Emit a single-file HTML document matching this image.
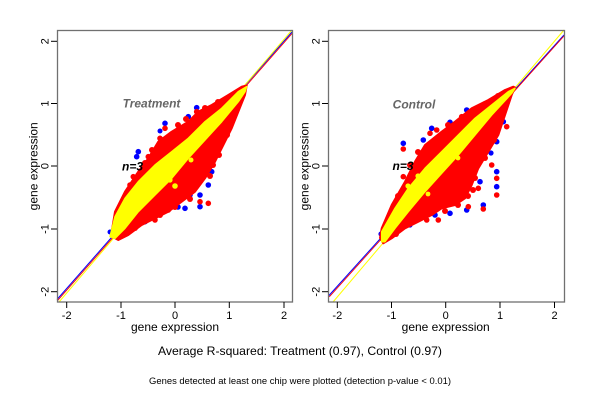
<!DOCTYPE html>
<html><head><meta charset="utf-8"><style>
html,body{margin:0;padding:0;background:#fff;}
svg{display:block;}
text{font-family:"Liberation Sans",Arial,sans-serif;}
</style></head><body>
<svg width="600" height="400" viewBox="0 0 600 400" xmlns="http://www.w3.org/2000/svg">
<rect width="600" height="400" fill="#fff"/>

<!-- LEFT PANEL -->
<g>
<line x1="57" y1="299.5" x2="292" y2="32" stroke="#0000ff" stroke-width="1"/>
<line x1="57.8" y1="300.3" x2="292.5" y2="33" stroke="#ff0000" stroke-width="0.9"/>
<line x1="59" y1="302" x2="292" y2="30" stroke="#ffff00" stroke-width="1"/>

<g fill="#0000ff">
<circle cx="165" cy="123.3" r="2.8"/><circle cx="196.7" cy="107.7" r="2.8"/><circle cx="188.3" cy="116.7" r="2.8"/>
<circle cx="138.3" cy="151.7" r="2.8"/><circle cx="136.7" cy="156.7" r="2.8"/><circle cx="128.3" cy="200" r="2.8"/>
<circle cx="120" cy="221.7" r="2.8"/><circle cx="115" cy="231.7" r="2.8"/><circle cx="208.3" cy="185" r="2.8"/>
<circle cx="200" cy="195" r="2.8"/><circle cx="185" cy="208.3" r="2.8"/><circle cx="150" cy="218.3" r="2.8"/>
<circle cx="145" cy="221.7" r="2.8"/><circle cx="220" cy="135" r="2.8"/><circle cx="218.3" cy="145" r="2.8"/>
<circle cx="211.7" cy="171.7" r="2.8"/><circle cx="190" cy="195" r="2.8"/><circle cx="200" cy="206.7" r="2.8"/>
<circle cx="224" cy="124" r="2.8"/><circle cx="131" cy="228" r="2.8"/><circle cx="178" cy="207" r="2.8"/>
<circle cx="230" cy="118" r="2.5"/><circle cx="110" cy="232" r="2.5"/><circle cx="160" cy="131" r="2.5"/>
</g>

<polygon fill="#ff0000" stroke="#ff0000" stroke-width="2" stroke-linejoin="round" points="115,211.7 125,191.7 138.3,171.7 148.3,158.3 158.3,141.7 171.7,131.7 188.3,121.7 198.3,111.7 211.7,105 228.3,95 241.7,86.7 246.7,85.5 245,95 238.3,111.7 231.7,128.3 225,141.7 215,161.7 205,178.3 195,191.7 181.7,201.7 168.3,211.7 155,218.3 141.7,225 128.3,235 118.3,240 111,236"/>

<g fill="#ff0000">
<circle cx="165" cy="128.3" r="2.8"/><circle cx="160" cy="138.3" r="2.8"/><circle cx="196.7" cy="111.7" r="2.8"/>
<circle cx="133.3" cy="176.7" r="2.8"/><circle cx="148.3" cy="156.7" r="2.8"/><circle cx="130" cy="185" r="2.8"/>
<circle cx="200" cy="201.7" r="2.8"/><circle cx="208.3" cy="203.3" r="2.8"/><circle cx="168.3" cy="210" r="2.8"/>
<circle cx="155" cy="220" r="2.8"/><circle cx="138.3" cy="175" r="2.8"/><circle cx="145" cy="163" r="3"/>
<circle cx="152" cy="150" r="3"/><circle cx="178" cy="125" r="3"/><circle cx="205" cy="108" r="3"/>
<circle cx="218" cy="102" r="3"/><circle cx="210" cy="176" r="3"/><circle cx="219" cy="155" r="3"/>
<circle cx="227" cy="135" r="3"/><circle cx="190" cy="199" r="3"/><circle cx="175" cy="207" r="3"/>
<circle cx="160" cy="215" r="3"/><circle cx="135" cy="228" r="3"/><circle cx="122" cy="204" r="3"/>
<circle cx="128" cy="193" r="3"/><circle cx="213" cy="165" r="3"/><circle cx="186" cy="119" r="3"/>
</g>

<text x="122" y="170.5" font-size="12" font-weight="bold" font-style="italic" fill="#000">n=3</text>

<polygon fill="#ffff00" stroke="#ffff00" stroke-width="1.5" stroke-linejoin="round" points="115,216.7 125,198.3 138.3,181.7 155,165 171.7,151.7 188.3,138.3 205,121.7 221.7,108.3 238.3,91.7 246.7,86.7 245,91.7 238.3,101.7 221.7,121.7 205,140 188.3,158.3 171.7,178.3 155,195 138.3,211.7 125,228.3 115,238.3 110,236.7"/>
<g fill="#ffff00"><circle cx="175" cy="186" r="2.8"/><circle cx="153" cy="172" r="2.6"/><circle cx="191" cy="160" r="2.5"/><circle cx="170" cy="180" r="2.6"/></g>

<text x="151.5" y="107.5" font-size="12" font-weight="bold" font-style="italic" fill="#666" text-anchor="middle">Treatment</text>

<rect x="57.5" y="30.5" width="235" height="271.5" fill="none" stroke="#707070" stroke-width="1.3"/>
<g stroke="#000" stroke-width="1">
<line x1="66.7" y1="302" x2="66.7" y2="308"/><line x1="121" y1="302" x2="121" y2="308"/><line x1="175" y1="302" x2="175" y2="308"/><line x1="229.3" y1="302" x2="229.3" y2="308"/><line x1="284" y1="302" x2="284" y2="308"/>
<line x1="51" y1="41.3" x2="57" y2="41.3"/><line x1="51" y1="103.5" x2="57" y2="103.5"/><line x1="51" y1="166" x2="57" y2="166"/><line x1="51" y1="229" x2="57" y2="229"/><line x1="51" y1="291.7" x2="57" y2="291.7"/>
</g>
<g font-size="11" fill="#000" text-anchor="middle">
<text x="66.7" y="319">-2</text><text x="121" y="319">-1</text><text x="175" y="319">0</text><text x="229.3" y="319">1</text><text x="284" y="319">2</text>
<text transform="translate(44.5,41.3) rotate(-90)" dy="4">2</text>
<text transform="translate(44.5,103.5) rotate(-90)" dy="4">1</text>
<text transform="translate(44.5,166) rotate(-90)" dy="4">0</text>
<text transform="translate(44.5,229) rotate(-90)" dy="4">-1</text>
<text transform="translate(44.5,291.7) rotate(-90)" dy="4">-2</text>
</g>
<text x="175" y="331" font-size="12" text-anchor="middle">gene expression</text>
<text transform="translate(37.5,166.3) rotate(-90)" font-size="12" text-anchor="middle">gene expression</text>
</g>

<!-- RIGHT PANEL -->
<g>
<line x1="328.5" y1="296" x2="564" y2="35" stroke="#0000ff" stroke-width="1"/>
<line x1="329.3" y1="296.8" x2="564" y2="36" stroke="#ff0000" stroke-width="0.9"/>
<line x1="333" y1="302" x2="564" y2="30" stroke="#ffff00" stroke-width="1"/>

<g fill="#0000ff">
<circle cx="478.3" cy="107.7" r="2.8"/><circle cx="466.7" cy="110" r="2.8"/><circle cx="450" cy="122.3" r="2.8"/>
<circle cx="431.7" cy="128.3" r="2.8"/><circle cx="403.3" cy="143.3" r="2.8"/><circle cx="423.3" cy="140" r="2.8"/>
<circle cx="503.3" cy="121.7" r="2.8"/><circle cx="496.7" cy="141.7" r="2.8"/><circle cx="496.7" cy="171.7" r="2.8"/>
<circle cx="480" cy="181.7" r="2.8"/><circle cx="496.7" cy="186.7" r="2.8"/><circle cx="483.3" cy="205" r="2.8"/>
<circle cx="466.7" cy="210" r="2.8"/><circle cx="450" cy="213.3" r="2.8"/><circle cx="435" cy="215" r="2.8"/>
<circle cx="418.3" cy="218.3" r="2.8"/><circle cx="463.3" cy="195" r="2.8"/><circle cx="388" cy="225" r="2.6"/>
<circle cx="381" cy="234" r="2.6"/><circle cx="491" cy="153" r="2.6"/><circle cx="410" cy="225" r="2.6"/>
</g>

<polygon fill="#ff0000" stroke="#ff0000" stroke-width="2" stroke-linejoin="round" points="381.7,228.3 391.7,205 405,181.7 415,161.7 425,145 441.7,131.7 455,121.7 471.7,108.3 488.3,100 505,90 513.3,86.7 515,87.5 511.7,95 505,115 498.3,135 488.3,151.7 478.3,168.3 471.7,185 465,198.3 455,205 441.7,208.3 431.7,215 418.3,221.7 405,228.3 391.7,238.3 383.3,243.3 380,238"/>

<g fill="#ff0000">
<circle cx="403.3" cy="149" r="2.8"/><circle cx="430" cy="133.3" r="2.8"/><circle cx="436.7" cy="130" r="2.8"/>
<circle cx="461.7" cy="116.7" r="2.8"/><circle cx="506.7" cy="126.7" r="2.8"/><circle cx="496.7" cy="178.3" r="2.8"/>
<circle cx="496.7" cy="195" r="2.8"/><circle cx="483.3" cy="209" r="2.8"/><circle cx="468.3" cy="206.7" r="2.8"/>
<circle cx="491.7" cy="165" r="2.8"/><circle cx="403.3" cy="176.7" r="2.8"/><circle cx="405" cy="188.3" r="2.8"/>
<circle cx="478.3" cy="188.3" r="2.8"/><circle cx="426.7" cy="220" r="2.8"/><circle cx="438.3" cy="220" r="2.8"/>
<circle cx="410" cy="165" r="3"/><circle cx="418" cy="152" r="3"/><circle cx="448" cy="125" r="3"/>
<circle cx="485" cy="104" r="3"/><circle cx="498" cy="96" r="3"/><circle cx="502" cy="115" r="3"/>
<circle cx="494" cy="140" r="3"/><circle cx="485" cy="158" r="3"/><circle cx="475" cy="178" r="3"/>
<circle cx="468" cy="196" r="3"/><circle cx="458" cy="205" r="3"/><circle cx="445" cy="211" r="3"/>
<circle cx="398" cy="196" r="3"/><circle cx="396" cy="234" r="3"/><circle cx="473" cy="190" r="3"/>
</g>

<text x="392.5" y="170" font-size="12" font-weight="bold" font-style="italic" fill="#000">n=3</text>

<polygon fill="#ffff00" stroke="#ffff00" stroke-width="1.5" stroke-linejoin="round" points="381.7,231.7 395,208.3 408.3,188.3 425,168.3 441.7,151.7 458.3,135 475,118.3 491.7,105 508.3,91.7 515,88.3 511.7,93.3 491.7,115 475,135 458.3,155 441.7,173.3 425,191.7 408.3,211.7 395,228.3 385,241.7 381.7,241.7"/>
<g fill="#ffff00"><circle cx="418" cy="176" r="2.6"/><circle cx="408" cy="186" r="2.6"/><circle cx="458" cy="158" r="2.4"/><circle cx="428" cy="194" r="2.4"/></g>

<text x="414" y="108.5" font-size="12" font-weight="bold" font-style="italic" fill="#666" text-anchor="middle">Control</text>

<rect x="328.5" y="30.5" width="236" height="271.5" fill="none" stroke="#707070" stroke-width="1.3"/>
<g stroke="#000" stroke-width="1">
<line x1="337.3" y1="302" x2="337.3" y2="308"/><line x1="391.5" y1="302" x2="391.5" y2="308"/><line x1="445.7" y1="302" x2="445.7" y2="308"/><line x1="500" y1="302" x2="500" y2="308"/><line x1="554.5" y1="302" x2="554.5" y2="308"/>
<line x1="322" y1="41.3" x2="328" y2="41.3"/><line x1="322" y1="103.5" x2="328" y2="103.5"/><line x1="322" y1="166" x2="328" y2="166"/><line x1="322" y1="229" x2="328" y2="229"/><line x1="322" y1="291.7" x2="328" y2="291.7"/>
</g>
<g font-size="11" fill="#000" text-anchor="middle">
<text x="337.3" y="319">-2</text><text x="391.5" y="319">-1</text><text x="445.7" y="319">0</text><text x="500" y="319">1</text><text x="554.5" y="319">2</text>
<text transform="translate(315.5,41.3) rotate(-90)" dy="4">2</text>
<text transform="translate(315.5,103.5) rotate(-90)" dy="4">1</text>
<text transform="translate(315.5,166) rotate(-90)" dy="4">0</text>
<text transform="translate(315.5,229) rotate(-90)" dy="4">-1</text>
<text transform="translate(315.5,291.7) rotate(-90)" dy="4">-2</text>
</g>
<text x="445.7" y="331" font-size="12" text-anchor="middle">gene expression</text>
<text transform="translate(308.5,166.3) rotate(-90)" font-size="12" text-anchor="middle">gene expression</text>
</g>

<text x="300" y="355" font-size="12" text-anchor="middle" textLength="284" lengthAdjust="spacingAndGlyphs">Average R-squared: Treatment (0.97), Control (0.97)</text>
<text x="300" y="384" font-size="9" text-anchor="middle" textLength="302" lengthAdjust="spacingAndGlyphs">Genes detected at least one chip were plotted (detection p-value &lt; 0.01)</text>
</svg>
</body></html>
